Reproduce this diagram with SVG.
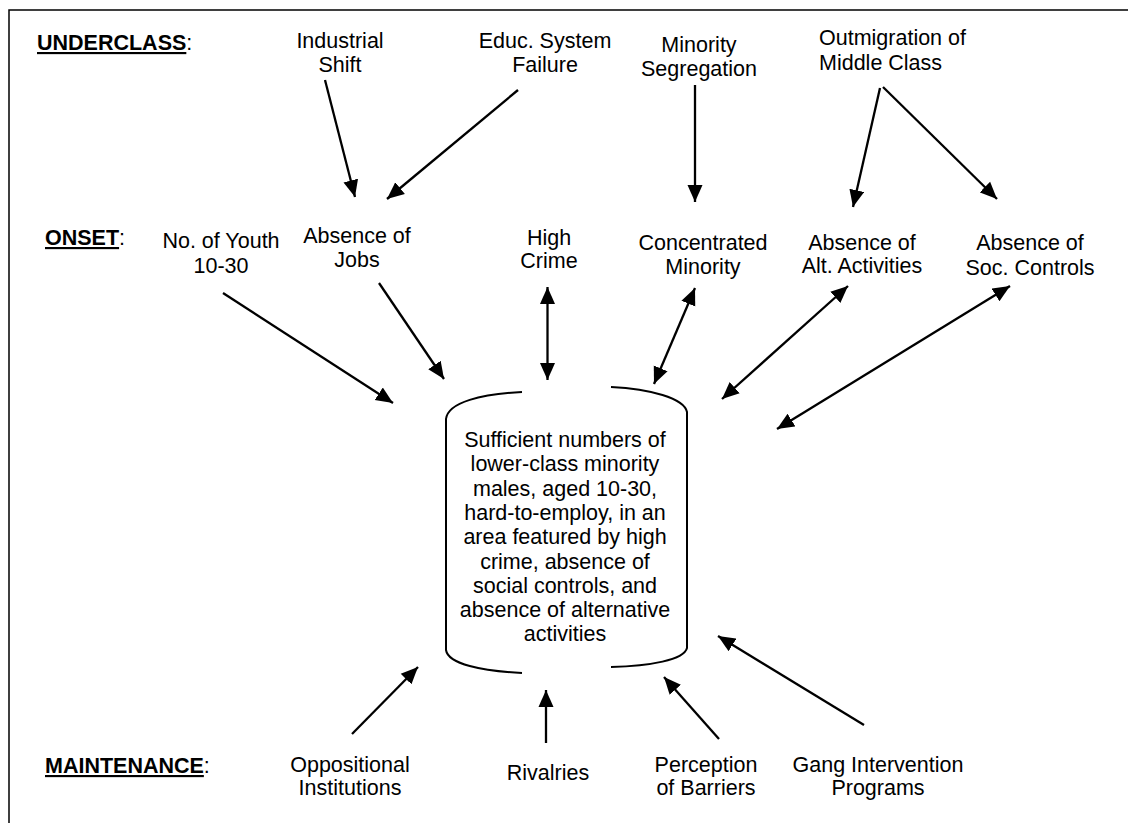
<svg xmlns="http://www.w3.org/2000/svg" width="1128" height="823" viewBox="0 0 1128 823">
<style>
text{font-family:"Liberation Sans",Arial,sans-serif;font-size:21.5px;fill:#000}
.c{text-anchor:middle}
.h{font-weight:bold;text-decoration:underline}
.ln{stroke:#000;stroke-width:2.3;fill:none}
.cyl{stroke:#000;stroke-width:2;fill:none}
</style>
<defs>
<marker id="ah" markerUnits="userSpaceOnUse" markerWidth="18" markerHeight="16" refX="17" refY="8" orient="auto-start-reverse" viewBox="0 0 18 16">
<path d="M0,0.5 L17,8 L0,15.5 z" fill="#000"/>
</marker>
</defs>
<rect x="9" y="10" width="1130" height="830" fill="none" stroke="#000" stroke-width="1.5"/>
<g id="labels">
<text x="37" y="50"><tspan class="h">UNDERCLASS</tspan>:</text>
<text x="45" y="245"><tspan class="h">ONSET</tspan>:</text>
<text x="45" y="773"><tspan class="h">MAINTENANCE</tspan>:</text>
</g>
<g id="industrial"><text class="c" x="340" y="48">Industrial</text><text class="c" x="340" y="72">Shift</text></g>
<g id="educ"><text class="c" x="545" y="48">Educ. System</text><text class="c" x="545" y="72">Failure</text></g>
<g id="segregation"><text class="c" x="699" y="52">Minority</text><text class="c" x="699" y="76">Segregation</text></g>
<g id="outmigration"><text x="819" y="45">Outmigration of</text><text x="819" y="70">Middle Class</text></g>
<g id="youth"><text class="c" x="221" y="248">No. of Youth</text><text class="c" x="221" y="273">10-30</text></g>
<g id="jobs"><text class="c" x="357" y="243">Absence of</text><text class="c" x="357" y="267">Jobs</text></g>
<g id="crime"><text class="c" x="549" y="245">High</text><text class="c" x="549" y="268">Crime</text></g>
<g id="concentrated"><text class="c" x="703" y="250">Concentrated</text><text class="c" x="703" y="274">Minority</text></g>
<g id="altact"><text class="c" x="862" y="250">Absence of</text><text class="c" x="862" y="273">Alt. Activities</text></g>
<g id="soccontrols"><text class="c" x="1030" y="250">Absence of</text><text class="c" x="1030" y="275">Soc. Controls</text></g>
<g id="center">
<path class="cyl" d="M522,392 C482,394 448,402 446,419 L446,650 C448,664 482,671 522,673"/>
<path class="cyl" d="M611,387 C650,389 684,398 687,412 L687,648 C684,660 650,666 611,667"/>
<text class="c" x="565" y="447">Sufficient numbers of</text>
<text class="c" x="565" y="471.3">lower-class minority</text>
<text class="c" x="565" y="495.6">males, aged 10-30,</text>
<text class="c" x="565" y="519.9">hard-to-employ, in an</text>
<text class="c" x="565" y="544.2">area featured by high</text>
<text class="c" x="565" y="568.5">crime, absence of</text>
<text class="c" x="565" y="592.8">social controls, and</text>
<text class="c" x="565" y="617.1">absence of alternative</text>
<text class="c" x="565" y="641.4">activities</text>
</g>
<g id="oppositional"><text class="c" x="350" y="772">Oppositional</text><text class="c" x="350" y="795">Institutions</text></g>
<g id="rivalries"><text class="c" x="548" y="780">Rivalries</text></g>
<g id="perception"><text class="c" x="706" y="772">Perception</text><text class="c" x="706" y="795">of Barriers</text></g>
<g id="gang"><text class="c" x="878" y="772">Gang Intervention</text><text class="c" x="878" y="795">Programs</text></g>
<g id="connectors">
<line class="ln" x1="325" y1="80" x2="355" y2="197" marker-end="url(#ah)"/>
<line class="ln" x1="518" y1="90" x2="387" y2="199" marker-end="url(#ah)"/>
<line class="ln" x1="695" y1="85" x2="695" y2="202" marker-end="url(#ah)"/>
<line class="ln" x1="880" y1="88" x2="853" y2="207" marker-end="url(#ah)"/>
<line class="ln" x1="883" y1="87" x2="997" y2="199" marker-end="url(#ah)"/>
<line class="ln" x1="223" y1="293" x2="393" y2="403" marker-end="url(#ah)"/>
<line class="ln" x1="379" y1="283" x2="444" y2="379" marker-end="url(#ah)"/>
<line class="ln" x1="547.5" y1="287" x2="547.5" y2="380" marker-start="url(#ah)" marker-end="url(#ah)"/>
<line class="ln" x1="695" y1="288" x2="654" y2="384" marker-start="url(#ah)" marker-end="url(#ah)"/>
<line class="ln" x1="848" y1="286" x2="722" y2="399" marker-start="url(#ah)" marker-end="url(#ah)"/>
<line class="ln" x1="1010" y1="286" x2="777" y2="429" marker-start="url(#ah)" marker-end="url(#ah)"/>
<line class="ln" x1="352" y1="734" x2="418" y2="667" marker-end="url(#ah)"/>
<line class="ln" x1="546" y1="743" x2="546" y2="690" marker-end="url(#ah)"/>
<line class="ln" x1="719" y1="739" x2="664" y2="677" marker-end="url(#ah)"/>
<line class="ln" x1="864" y1="725" x2="718" y2="636" marker-end="url(#ah)"/>
</g>
</svg>
